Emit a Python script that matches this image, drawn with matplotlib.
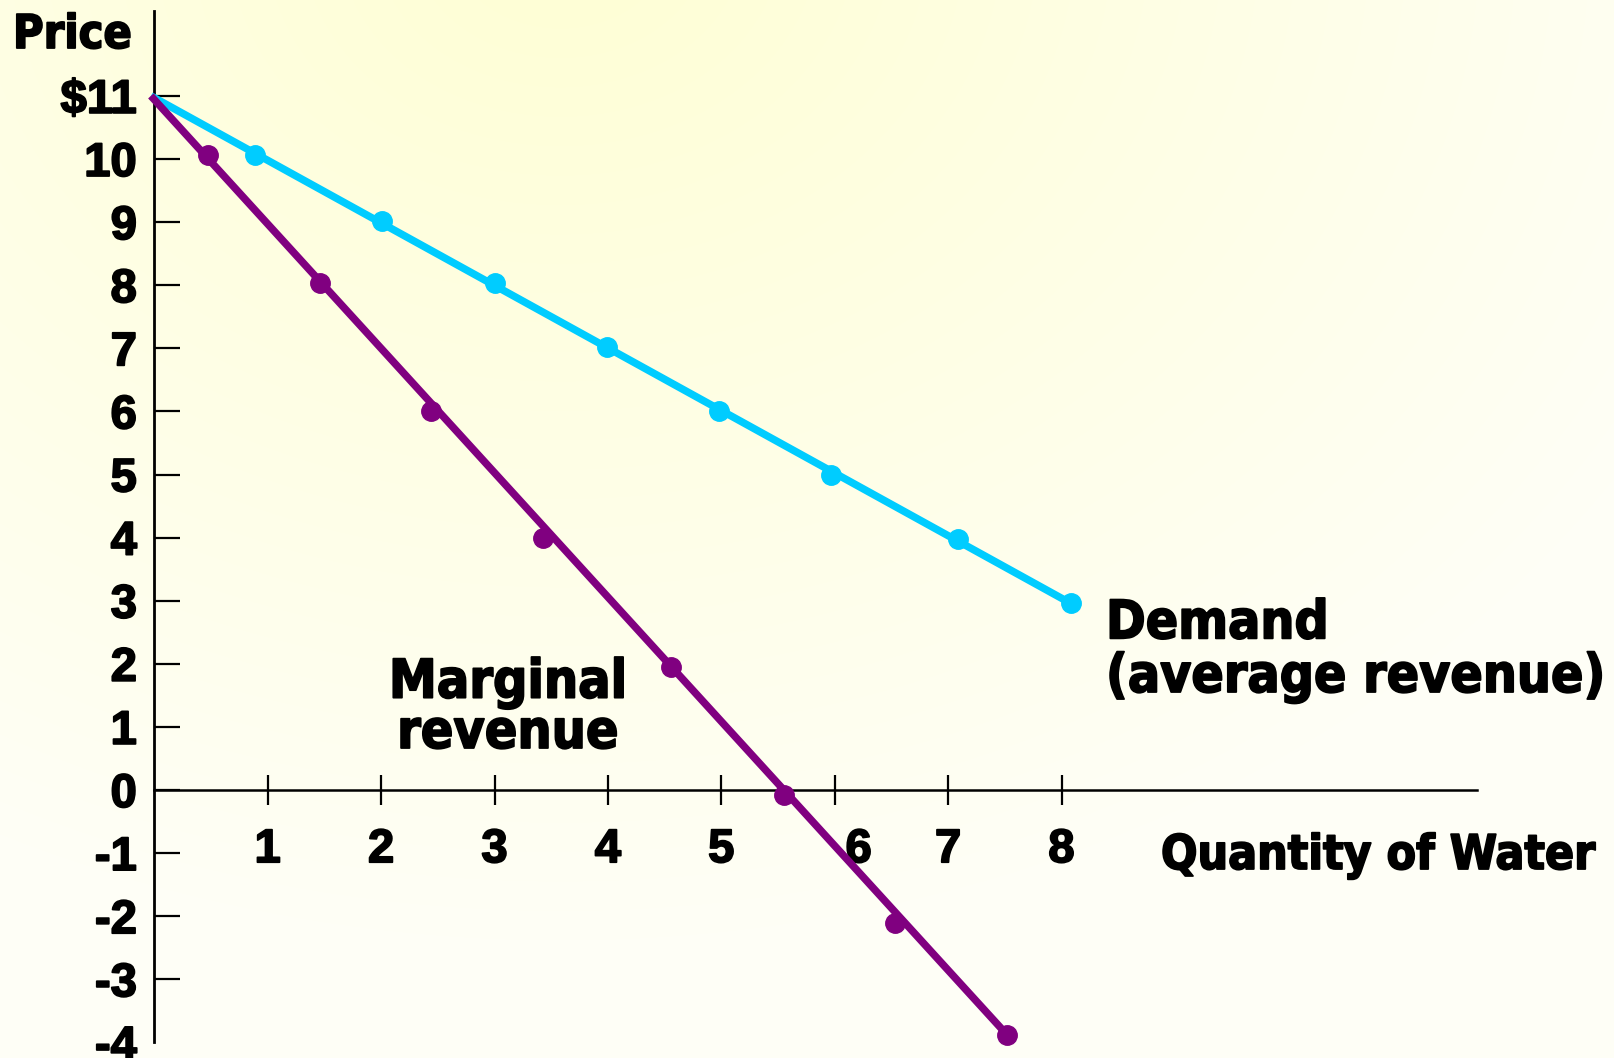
import numpy as np
import matplotlib
matplotlib.use('Agg')
import matplotlib.pyplot as plt
import matplotlib.transforms as mtransforms
import matplotlib.patheffects as pe

plt.rcParams['font.family'] = ['DejaVu Sans']
plt.rcParams['font.stretch'] = 'condensed'
plt.rcParams['font.weight'] = 'bold'

# data
demand_q = [0.89, 2.01, 3.0, 3.99, 4.98, 5.97, 7.09, 8.08]
demand_p = [10.06, 9.02, 8.04, 7.02, 6.01, 4.99, 3.98, 2.96]
mr_q = [0.47, 1.46, 2.44, 3.43, 4.56, 5.55, 6.53, 7.52]
mr_p = [10.06, 8.04, 6.01, 3.99, 1.95, -0.08, -2.10, -3.88]
start_q, start_p = -0.03, 11.0

x_ticks = [1, 2, 3, 4, 5, 6, 7, 8]
x_labels = ['1', '2', '3', '4', '5', '6', '7', '8']
y_ticks = list(range(-4, 12))
y_labels = ['-4', '-3', '-2', '-1', '0', '1', '2', '3', '4', '5',
            '6', '7', '8', '9', '10', '$11']

BLUE = '#00CCFF'
PURPLE = '#800080'
TICK_FONT = 'Liberation Sans'
# a thin outline makes the bold text as heavy as in the slide
heavy = [pe.withStroke(linewidth=1.3, foreground='black')]

W, H = 1614, 1058
fig = plt.figure(figsize=(W / 100, H / 100), dpi=100)

# soft yellow radial background
bg = fig.add_axes([0, 0, 1, 1], zorder=0)
yy, xx = np.mgrid[0:H, 0:W]
r = np.sqrt(((xx - 560) / 1.25) ** 2 + (yy + 60) ** 2) / 1000.0
t = np.clip(r, 0, 1)[..., None]
c_in = np.array([255, 255, 212]) / 255.0
c_out = np.array([254, 254, 246]) / 255.0
bg.imshow(c_in * (1 - t) + c_out * t, aspect='auto', interpolation='bilinear')
bg.axis('off')

# axes placed so that 1 unit of q = 113.4 px, 1 unit of p = 63.1 px
x0, ux = 154.3, 113.4
y0, uy = 790.0, 63.1
xmin, xmax = 0, 11.8
ymin, ymax = -4, 12.35
ax = fig.add_axes([x0 / W, (H - (y0 - ymin * uy)) / H,
                   (xmax - xmin) * ux / W, (ymax - ymin) * uy / H], zorder=1)
ax.set_facecolor('none')
ax.set_xlim(xmin, xmax)
ax.set_ylim(ymin, ymax)

for s in ['top', 'right']:
    ax.spines[s].set_visible(False)
ax.spines['left'].set_linewidth(2.0)
ax.spines['bottom'].set_position(('data', 0))
ax.spines['bottom'].set_bounds(0, 11.66)
ax.spines['bottom'].set_linewidth(1.8)

# curves: straight lines from the $11 intercept to the last point
ax.plot([start_q, demand_q[-1]], [start_p, demand_p[-1]], color=BLUE, lw=5.4,
        solid_capstyle='butt', clip_on=False, zorder=3)
ax.plot(demand_q, demand_p, 'o', color=BLUE, ms=14, clip_on=False, zorder=4)
ax.plot([start_q, mr_q[-1]], [start_p, mr_p[-1]], color=PURPLE, lw=5.4,
        solid_capstyle='butt', clip_on=False, zorder=3)
ax.plot(mr_q, mr_p, 'o', color=PURPLE, ms=14, clip_on=False, zorder=4)

ax.set_yticks(y_ticks)
ax.set_yticklabels(y_labels, family=TICK_FONT, stretch='normal')
ax.set_xticks(x_ticks)
ax.set_xticklabels(x_labels, family=TICK_FONT, stretch='normal')
ax.tick_params(axis='y', direction='in', length=18.7, width=1.6, pad=12.5,
               labelsize=34)
ax.tick_params(axis='x', direction='inout', length=21, width=1.6, pad=17,
               labelsize=34)
ax.yaxis.get_major_ticks()[0].tick1line.set_visible(False)

for lbl in ax.get_yticklabels():
    lbl.set_path_effects(heavy)
for lbl in ax.get_xticklabels():
    lbl.set_path_effects(heavy)
    if lbl.get_text() == '6':
        lbl.set_transform(lbl.get_transform() +
                          mtransforms.ScaledTranslation(0.24, 0, fig.dpi_scale_trans))

fig.text(13 / W, 1 - 48 / H, 'Price', fontsize=33.5, ha='left', va='baseline',
         path_effects=heavy)
fig.text(1106 / W, 1 - 692 / H, 'Demand\n(average revenue)', fontsize=38.3,
         ha='left', va='baseline', linespacing=1.04, path_effects=heavy)
fig.text(508 / W, 1 - 748 / H, 'Marginal\nrevenue', fontsize=38.5,
         ha='center', va='baseline', multialignment='center', linespacing=0.96,
         path_effects=heavy)
fig.text(1161 / W, 1 - 869 / H, 'Quantity of Water', fontsize=34.4,
         ha='left', va='baseline', path_effects=heavy)

fig.savefig('out.png', dpi=100)
